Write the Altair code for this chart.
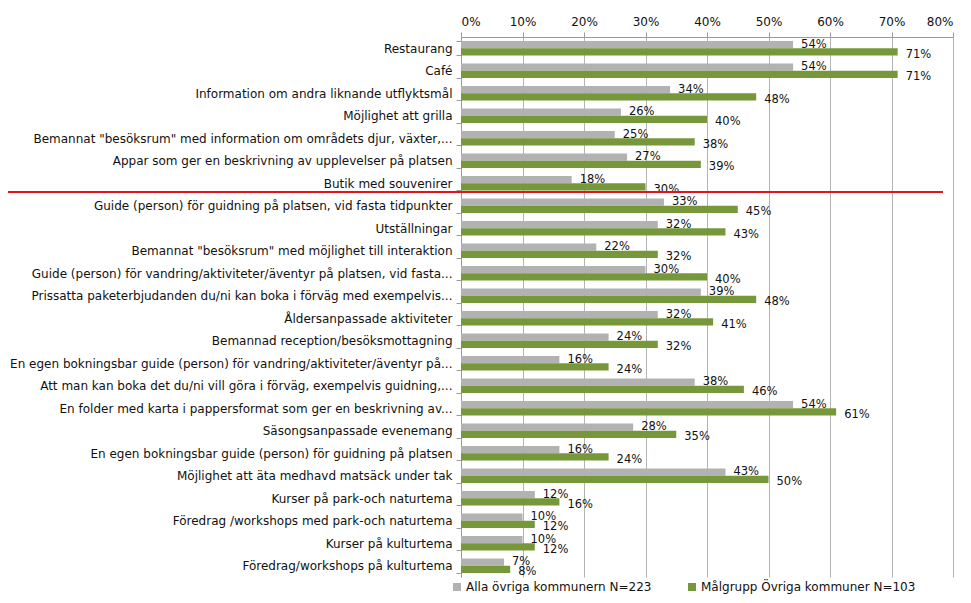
import altair as alt
import pandas as pd

categories = [
    "Restaurang",
    "Café",
    "Information om andra liknande utflyktsmål",
    "Möjlighet att grilla",
    "Bemannat \"besöksrum\" med information om områdets djur, växter,...",
    "Appar som ger en beskrivning av upplevelser på platsen",
    "Butik med souvenirer",
    "Guide (person) för guidning på platsen, vid fasta tidpunkter",
    "Utställningar",
    "Bemannat \"besöksrum\" med möjlighet till interaktion",
    "Guide (person) för vandring/aktiviteter/äventyr på platsen, vid fasta...",
    "Prissatta paketerbjudanden du/ni kan boka i förväg med exempelvis...",
    "Åldersanpassade aktiviteter",
    "Bemannad reception/besöksmottagning",
    "En egen bokningsbar guide (person) för vandring/aktiviteter/äventyr på...",
    "Att man kan boka det du/ni vill göra i förväg, exempelvis guidning,...",
    "En folder med karta i pappersformat som ger en beskrivning av...",
    "Säsongsanpassade evenemang",
    "En egen bokningsbar guide (person) för guidning på platsen",
    "Möjlighet att äta medhavd matsäck under tak",
    "Kurser på park-och naturtema",
    "Föredrag /workshops med  park-och naturtema",
    "Kurser på kulturtema",
    "Föredrag/workshops på kulturtema",
]
alla = [54, 54, 34, 26, 25, 27, 18, 33, 32, 22, 30, 39, 32, 24, 16, 38, 54, 28, 16, 43, 12, 10, 10, 7]
malgrupp = [71, 71, 48, 40, 38, 39, 30, 45, 43, 32, 40, 48, 41, 32, 24, 46, 61, 35, 24, 50, 16, 12, 12, 8]
series = ["Alla övriga kommunern N=223", "Målgrupp Övriga kommuner N=103"]
colors = ["#b2b2b2", "#77973b"]
x_ticks = [0, 10, 20, 30, 40, 50, 60, 70, 80]
divider_after = "Butik med souvenirer"

rows = []
for c, a, m in zip(categories, alla, malgrupp):
    rows.append({"cat": c, "series": series[0], "value": a})
    rows.append({"cat": c, "series": series[1], "value": m})
df = pd.DataFrame(rows)
df["label"] = df["value"].astype(str) + "%"

FONT = "DejaVu Sans"

y_enc = alt.Y(
    "cat:N",
    sort=categories,
    scale=alt.Scale(paddingInner=0.36, paddingOuter=0.18),
    axis=alt.Axis(
        title=None,
        labelFontSize=12,
        labelFont=FONT,
        labelColor="#111111",
        labelLimit=460,
        labelPadding=4,
        tickBand="extent",
        tickSize=5,
        tickColor="#9a9a9a",
        domainColor="#9a9a9a",
        grid=False,
    ),
)
x_enc = alt.X(
    "value:Q",
    scale=alt.Scale(domain=[0, 80], nice=False),
    axis=alt.Axis(
        orient="top",
        title=None,
        values=x_ticks,
        labelExpr="datum.value + '%'",
        labelFontSize=12,
        labelFont=FONT,
        labelColor="#111111",
        labelPadding=4,
        tickSize=5,
        tickColor="#9a9a9a",
        domainColor="#9a9a9a",
        grid=True,
        gridColor="#b4b4b4",
    ),
)
yoff = alt.YOffset("series:N", sort=series)
color_enc = alt.Color(
    "series:N",
    sort=series,
    scale=alt.Scale(domain=series, range=colors),
    legend=alt.Legend(
        title=None,
        orient="none",
        legendX=-10,
        legendY=544,
        direction="horizontal",
        symbolType="square",
        symbolSize=64,
        symbolStrokeWidth=0,
        labelFontSize=12,
        labelFont=FONT,
        labelColor="#111111",
        labelLimit=400,
        columnPadding=34,
        labelOffset=3,
    ),
)

bars = alt.Chart(df).mark_bar().encode(y=y_enc, x=x_enc, yOffset=yoff, color=color_enc)

texts_alla = alt.Chart(df).transform_filter(
    alt.datum.series == series[0]
).mark_text(
    align="left", baseline="middle", dx=8, dy=0, fontSize=11.5, font=FONT, color="#111111"
).encode(y=alt.Y("cat:N", sort=categories), x="value:Q", yOffset=yoff, text="label:N")

texts_mal = alt.Chart(df).transform_filter(
    alt.datum.series == series[1]
).mark_text(
    align="left", baseline="middle", dx=8, dy=3, fontSize=11.5, font=FONT, color="#111111"
).encode(y=alt.Y("cat:N", sort=categories), x="value:Q", yOffset=yoff, text="label:N")

rule_df = pd.DataFrame({"cat": [divider_after]})
rule = alt.Chart(rule_df).mark_rule(color="#e3121b", strokeWidth=2, yOffset=1.5).encode(
    y=alt.Y("cat:N", sort=categories, bandPosition=1),
    x=alt.value(-453),
    x2=alt.value(482),
)

chart = (
    alt.layer(bars, texts_alla, texts_mal, rule)
    .properties(
        width=492,
        height=540,
        autosize=alt.AutoSizeParams(type="none"),
        padding={"left": 453, "top": 29, "right": 10, "bottom": 22},
    )
    .configure_view(strokeWidth=0)
)

chart.save("out.html", embed_options={"renderer": "svg", "actions": False})
